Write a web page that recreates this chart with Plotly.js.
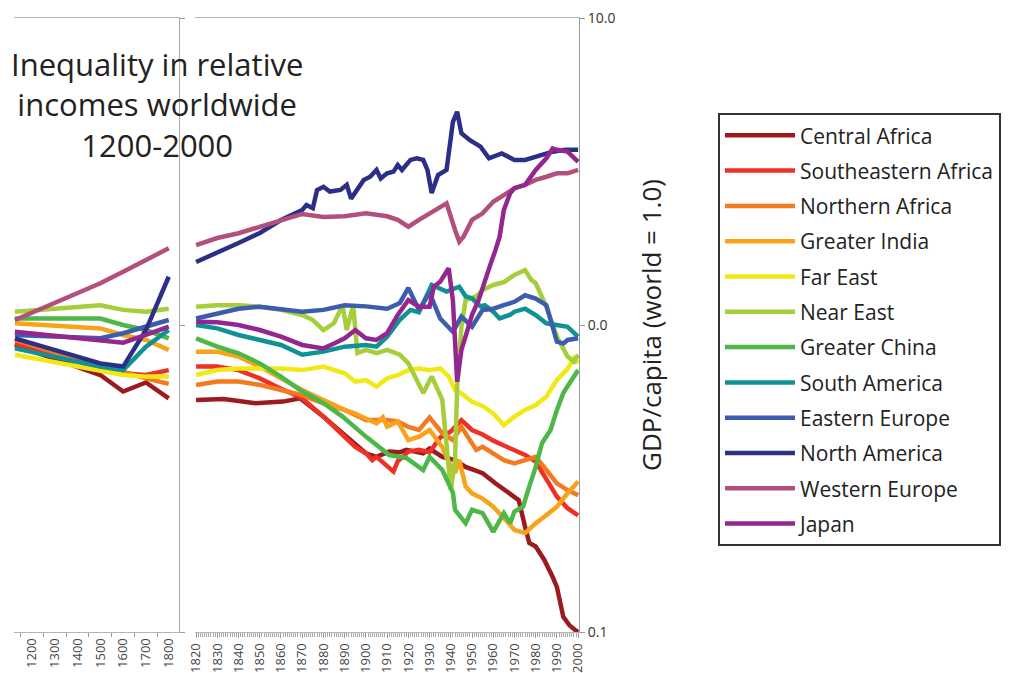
<!DOCTYPE html>
<html>
<head>
<meta charset="utf-8">
<script src="https://cdn.plot.ly/plotly-3.0.1.min.js"></script>
<style>html,body{margin:0;padding:0;background:#fff;}#chart{width:1016px;height:673px;}</style>
</head>
<body>
<div id="chart"></div>
<script>
// ---------- DATA ----------
const regions = ["Central Africa","Southeastern Africa","Northern Africa","Greater India","Far East","Near East","Greater China","South America","Eastern Europe","North America","Western Europe","Japan"];

// Early period (left panel)
const earlyYears = [1125, 1500, 1600, 1700, 1800];
const earlyCentralAfrica = [0.861, 0.687, 0.607, 0.65, 0.577];
const earlySEAfrica = [0.872, 0.722, 0.696, 0.687, 0.713];
const earlyNAfrica = [0.894, 0.732, 0.705, 0.67, 0.643];
const earlyIndia = [1.013, 0.975, 0.928, 0.894, 0.83];
const earlyFarEast = [0.80, 0.705, 0.687, 0.679, 0.679];
const earlyNearEast = [1.105, 1.16, 1.12, 1.105, 1.13];
const earlyChina = [1.05, 1.05, 1.0, 0.963, 0.905];
const earlySAmerica = [0.839, 0.732, 0.713, 0.85, 0.963];
const earlyEEurope = [0.928, 0.905, 0.94, 0.987, 1.038];
const earlyNAmerica = [0.905, 0.75, 0.732, 0.963, 1.436];
const earlyWEurope = [1.038, 1.367, 1.49, 1.63, 1.778];
const earlyJapan = [0.951, 0.894, 0.876, 0.928, 0.987];

// Modern period (right panel)
const caYears = [1820,1833,1848,1861,1869,1880,1889,1900,1905,1911,1916,1919,1927,1930,1936,1942,1947,1955,1961,1968,1972,1975,1977,1980,1984,1988,1990,1993,1996,1999,2000];
const caVals  = [0.57,0.574,0.556,0.563,0.577,0.503,0.444,0.382,0.372,0.387,0.385,0.392,0.382,0.396,0.372,0.363,0.345,0.329,0.305,0.283,0.269,0.22,0.195,0.19,0.172,0.151,0.14,0.112,0.105,0.101,0.1];

const seaYears = [1820,1830,1840,1850,1860,1870,1880,1890,1895,1900,1903,1905,1910,1913,1915,1920,1925,1930,1935,1940,1945,1950,1955,1960,1965,1970,1975,1980,1985,1990,1995,2000];
const seaVals  = [0.732,0.732,0.713,0.67,0.62,0.577,0.503,0.433,0.401,0.382,0.363,0.372,0.345,0.333,0.36,0.387,0.392,0.385,0.43,0.45,0.49,0.455,0.44,0.42,0.405,0.392,0.377,0.359,0.313,0.276,0.253,0.24];

const naYears = [1820,1830,1840,1850,1860,1870,1880,1890,1900,1910,1915,1920,1925,1930,1936,1941,1945,1952,1955,1960,1965,1970,1975,1980,1985,1990,1995,2000];
const naVals  = [0.638,0.654,0.654,0.638,0.614,0.591,0.556,0.529,0.49,0.49,0.485,0.466,0.455,0.50,0.444,0.422,0.466,0.392,0.401,0.382,0.363,0.354,0.363,0.372,0.337,0.305,0.29,0.279];

const giYears = [1820,1830,1840,1850,1860,1870,1880,1885,1890,1895,1900,1905,1908,1910,1915,1920,1925,1930,1936,1940,1942,1944,1947,1950,1955,1960,1965,1970,1975,1980,1985,1990,1995,2000];
const giVals  = [0.818,0.818,0.789,0.732,0.67,0.614,0.57,0.549,0.529,0.515,0.497,0.478,0.50,0.466,0.485,0.422,0.433,0.455,0.40,0.345,0.33,0.363,0.298,0.283,0.272,0.256,0.235,0.215,0.21,0.226,0.24,0.256,0.283,0.309];

const feYears = [1820,1830,1840,1850,1860,1870,1880,1890,1895,1900,1905,1910,1915,1920,1925,1930,1935,1939,1942,1945,1950,1955,1960,1965,1970,1975,1980,1985,1990,1995,1998,2000];
const feVals  = [0.687,0.713,0.722,0.722,0.722,0.713,0.732,0.696,0.654,0.662,0.63,0.67,0.687,0.713,0.722,0.713,0.722,0.68,0.614,0.599,0.562,0.545,0.515,0.472,0.503,0.529,0.549,0.584,0.662,0.72,0.78,0.75];

const neYears = [1820,1830,1840,1850,1860,1870,1875,1880,1885,1889,1891,1894,1896,1900,1905,1910,1916,1920,1927,1931,1936,1939,1940,1942,1943,1945,1947,1952,1955,1960,1965,1970,1975,1978,1980,1985,1990,1995,1998,2000];
const neVals  = [1.147,1.16,1.16,1.147,1.12,1.078,1.038,0.963,1.015,1.16,0.963,1.16,0.81,0.83,0.81,0.83,0.80,0.75,0.60,0.68,0.57,0.33,0.29,0.363,0.63,0.987,1.206,1.24,1.30,1.35,1.38,1.455,1.51,1.40,1.37,1.147,0.916,0.789,0.76,0.80];

const gcYears = [1820,1830,1840,1850,1860,1869,1880,1889,1900,1911,1919,1927,1930,1936,1941,1942,1947,1950,1955,1960,1965,1968,1970,1974,1977,1980,1983,1987,1990,1993,1996,2000];
const gcVals  = [0.905,0.85,0.809,0.75,0.679,0.614,0.556,0.503,0.433,0.377,0.369,0.337,0.372,0.337,0.284,0.25,0.226,0.25,0.244,0.212,0.244,0.226,0.247,0.256,0.298,0.345,0.413,0.455,0.529,0.60,0.647,0.713];

const saYears = [1820,1830,1840,1850,1860,1870,1875,1880,1890,1900,1905,1910,1916,1921,1925,1931,1938,1944,1947,1950,1954,1956,1960,1963,1968,1970,1975,1980,1985,1990,1995,2000];
const saVals  = [1.0,0.975,0.928,0.894,0.861,0.80,0.81,0.819,0.85,0.861,0.85,0.916,1.04,1.12,1.10,1.35,1.284,1.333,1.24,1.22,1.15,1.16,1.105,1.05,1.08,1.105,1.13,1.078,1.013,1.0,0.987,0.916];

const eeYears = [1820,1830,1840,1850,1860,1870,1880,1890,1900,1910,1916,1920,1925,1930,1935,1941,1945,1950,1955,1960,1965,1970,1975,1980,1985,1988,1990,1993,1995,2000];
const eeVals  = [1.05,1.09,1.13,1.147,1.13,1.105,1.12,1.16,1.15,1.13,1.18,1.32,1.12,1.27,1.05,0.951,1.065,0.987,1.12,1.13,1.16,1.19,1.25,1.22,1.16,1.0,0.882,0.87,0.894,0.905];

const namYears = [1820,1830,1840,1850,1860,1870,1872,1875,1877,1880,1883,1888,1891,1893,1896,1899,1902,1905,1907,1910,1913,1915,1917,1921,1924,1927,1929,1931,1934,1938,1941,1943,1945,1949,1954,1958,1964,1970,1975,1982,1988,1994,2000];
const namVals  = [1.604,1.716,1.85,1.994,2.198,2.37,2.46,2.40,2.753,2.82,2.72,2.753,2.86,2.58,2.753,2.967,3.04,3.20,3.0,3.12,3.16,3.32,3.20,3.45,3.49,3.45,3.20,2.69,3.08,3.20,4.59,4.95,4.21,4.0,3.81,3.49,3.62,3.45,3.45,3.58,3.67,3.72,3.72];

const weYears = [1820,1830,1840,1850,1860,1870,1880,1890,1900,1910,1915,1920,1925,1930,1935,1938,1942,1944,1946,1950,1955,1960,1965,1970,1975,1980,1985,1990,1995,2000];
const weVals  = [1.82,1.92,1.99,2.09,2.20,2.30,2.25,2.26,2.31,2.26,2.20,2.09,2.20,2.31,2.43,2.49,2.04,1.87,1.94,2.20,2.31,2.52,2.65,2.79,2.86,2.97,3.04,3.12,3.12,3.20];

const jpYears = [1820,1830,1840,1850,1860,1870,1875,1880,1885,1890,1895,1900,1905,1910,1915,1920,1925,1930,1932,1935,1939,1941,1943,1945,1947,1950,1953,1956,1959,1961,1963,1965,1968,1970,1975,1980,1985,1988,1990,1995,2000];
const jpVals  = [1.025,1.02,1.0,0.963,0.916,0.861,0.85,0.839,0.87,0.905,0.963,0.905,0.894,0.94,1.078,1.206,1.147,1.147,1.333,1.384,1.53,1.20,0.653,0.83,0.92,1.08,1.20,1.40,1.60,1.75,1.94,2.37,2.69,2.79,2.86,3.20,3.49,3.76,3.72,3.67,3.40];

const modernYears = [caYears, seaYears, naYears, giYears, feYears, neYears, gcYears, saYears, eeYears, namYears, weYears, jpYears];
const modernVals  = [caVals, seaVals, naVals, giVals, feVals, neVals, gcVals, saVals, eeVals, namVals, weVals, jpVals];
const earlyVals   = [earlyCentralAfrica, earlySEAfrica, earlyNAfrica, earlyIndia, earlyFarEast, earlyNearEast, earlyChina, earlySAmerica, earlyEEurope, earlyNAmerica, earlyWEurope, earlyJapan];

const leftTickYears = [1200,1300,1400,1500,1600,1700,1800];
const yTickVals = [0.1, 1, 10];
const yTickText = ["0.1", "0.0", "10.0"];

// ---------- STYLE ----------
const colors = ["#9b1b1f","#ee3124","#f47a20","#f9a31b","#f1e816","#a6cd3a","#4db848","#0f9293","#3c5cae","#2b3086","#b24f7d","#93278f"];
const LW = 4.5;
const FONT = "Open Sans, sans-serif";

const traces = [];
regions.forEach((name, i) => {
  traces.push({
    x: earlyYears, y: earlyVals[i], xaxis: "x", yaxis: "y",
    type: "scatter", mode: "lines", name: name, showlegend: false,
    legendgroup: "g" + i, hoverinfo: "skip",
    line: {color: colors[i], width: LW, shape: "linear"}
  });
});
regions.forEach((name, i) => {
  traces.push({
    x: modernYears[i], y: modernVals[i], xaxis: "x2", yaxis: "y2",
    type: "scatter", mode: "lines", name: name, showlegend: true,
    legendgroup: "g" + i,
    line: {color: colors[i], width: LW}
  });
});

const axisLine = "#b5b5b5";
const layout = {
  width: 1016, height: 673,
  margin: {l: 14, r: 437, t: 18, b: 41, pad: 0},
  paper_bgcolor: "#fff", plot_bgcolor: "#fff",
  font: {family: FONT, color: "#333"},
  showlegend: true,
  xaxis: {
    domain: [0, 0.292], range: [1121, 1845], type: "linear",
    showgrid: false, zeroline: false,
    showline: true, linecolor: axisLine, linewidth: 1, mirror: true,
    tickmode: "array", tickvals: leftTickYears, ticktext: leftTickYears.map(String),
    ticks: "", tickangle: -90, tickfont: {size: 13, color: "#444", family: FONT},
    minor: {tick0: 1150, dtick: 100, ticks: "outside", ticklen: 4, tickcolor: "#999", showgrid: false}
  },
  yaxis: {
    type: "log", range: [-1, 1], anchor: "x", side: "right",
    showgrid: false, zeroline: false, showline: true, linecolor: "#aaa", linewidth: 1,
    tickmode: "array", tickvals: yTickVals, ticks: "outside", ticklen: 5, tickcolor: "#999",
    showticklabels: false
  },
  xaxis2: {
    domain: [0.3204, 1], range: [1819.5, 2000.4], anchor: "y2", type: "linear",
    showgrid: false, zeroline: false,
    showline: true, linecolor: axisLine, linewidth: 1, mirror: true,
    tickmode: "linear", tick0: 1820, dtick: 10,
    ticks: "outside", ticklen: 5, tickcolor: "#999",
    tickangle: -90, tickfont: {size: 13, color: "#444", family: FONT},
    minor: {dtick: 1, ticks: "outside", ticklen: 4, tickcolor: "#aaa", showgrid: false}
  },
  yaxis2: {
    type: "log", range: [-1, 1], anchor: "x2", side: "right",
    showgrid: false, zeroline: false, showline: true, linecolor: "#999", linewidth: 1,
    tickmode: "array", tickvals: yTickVals, ticktext: yTickText,
    ticks: "outside", ticklen: 5, tickcolor: "#999",
    tickfont: {size: 14, color: "#333", family: FONT},
    title: {text: "GDP/capita (world = 1.0)", font: {size: 26, color: "#222", family: FONT}, standoff: 28}
  },
  legend: {
    x: 1.246, y: 0.845, xanchor: "left", yanchor: "top",
    bordercolor: "#333", borderwidth: 2, bgcolor: "#fff",
    font: {size: 21, color: "#222", family: FONT},
    tracegroupgap: 5, itemwidth: 70, traceorder: "grouped"
  },
  annotations: [{
    xref: "paper", yref: "paper", x: 0.253, y: 0.962, xanchor: "center", yanchor: "top",
    text: "Inequality in relative<br>incomes worldwide<br>1200-2000",
    showarrow: false, align: "center",
    font: {size: 31, color: "#222", family: FONT}
  }]
};

Plotly.newPlot("chart", traces, layout, {displayModeBar: false, staticPlot: true});
</script>
</body>
</html>
